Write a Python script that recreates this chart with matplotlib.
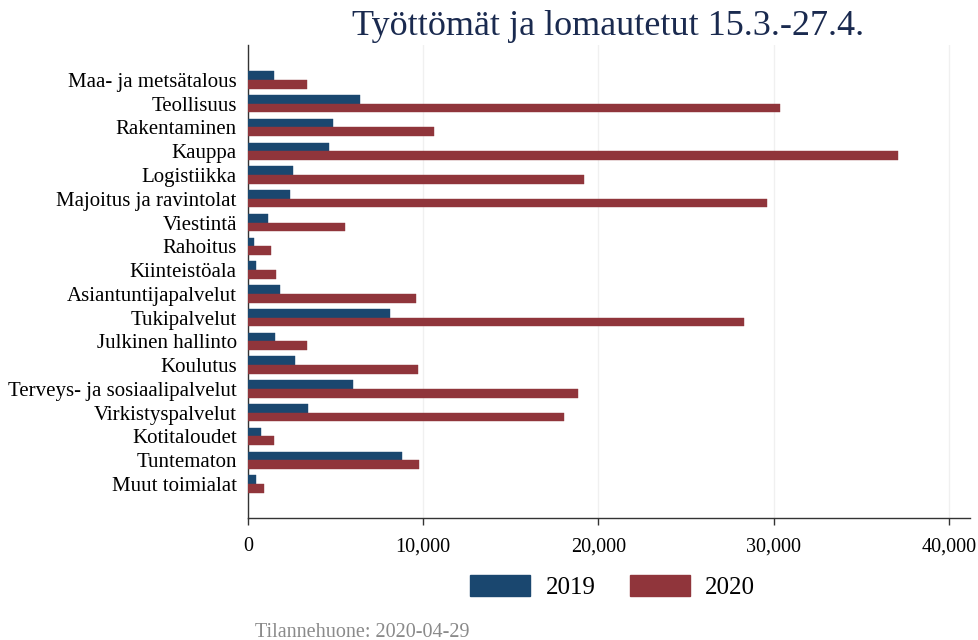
import numpy as np
import matplotlib
matplotlib.use('Agg')
import matplotlib.pyplot as plt
from matplotlib.ticker import FuncFormatter
from matplotlib.patches import Patch

plt.rcParams['font.family'] = ['Liberation Serif', 'DejaVu Serif']

# toimialat ja arvot (luettu kuvasta)
categories = ['Maa- ja metsätalous', 'Teollisuus', 'Rakentaminen', 'Kauppa',
              'Logistiikka', 'Majoitus ja ravintolat', 'Viestintä', 'Rahoitus',
              'Kiinteistöala', 'Asiantuntijapalvelut', 'Tukipalvelut',
              'Julkinen hallinto', 'Koulutus', 'Terveys- ja sosiaalipalvelut',
              'Virkistyspalvelut', 'Kotitaloudet', 'Tuntematon', 'Muut toimialat']
values_2019 = [1470, 6410, 4840, 4650, 2560, 2410, 1140, 340, 450, 1820,
               8090, 1560, 2680, 6010, 3420, 720, 8780, 450]
values_2020 = [3380, 30360, 10600, 37070, 19160, 29600, 5510, 1290, 1610, 9560,
               28330, 3380, 9710, 18860, 18010, 1480, 9750, 930]
series_labels = ['2019', '2020']
xticks = [0, 10000, 20000, 30000, 40000]

BLUE = '#1a476f'
RED = '#90353b'

fig = plt.figure(figsize=(9.79, 6.4), dpi=100)
ax = fig.add_axes([0.2533, 0.1906, 0.7375, 0.7391])

y = np.arange(len(categories))
h = 0.365
ax.barh(y - h / 2, values_2019, height=h, color=BLUE, edgecolor=BLUE, linewidth=0.3, zorder=3)
ax.barh(y + h / 2, values_2020, height=h, color=RED, edgecolor=RED, linewidth=0.3, zorder=3)

ax.set_ylim(len(categories) - 1 + 1.43, -1.47)
ax.set_xlim(0, 41200)
ax.set_yticks(y)
ax.set_yticklabels(categories, fontsize=15)
ax.tick_params(axis='y', length=0, pad=8)
ax.set_xticks(xticks)
ax.xaxis.set_major_formatter(FuncFormatter(lambda v, p: f'{int(v):,}'))
ax.tick_params(axis='x', labelsize=14.5, length=5, width=1.0, color='#333333', pad=9)

ax.grid(axis='x', color='#f0f0f0', linewidth=1.0, zorder=0)
for s in ['top', 'right']:
    ax.spines[s].set_visible(False)
for s in ['left', 'bottom']:
    ax.spines[s].set_color('#333333')
    ax.spines[s].set_linewidth(1.0)

fig.text(0.621, 0.958, 'Työttömät ja lomautetut 15.3.-27.4.', ha='center', va='center',
         fontsize=26, color='#1a2a4f')

handles = [Patch(facecolor=BLUE, edgecolor=BLUE), Patch(facecolor=RED, edgecolor=RED)]
fig.legend(handles, series_labels, loc='center', bbox_to_anchor=(0.626, 0.083), ncol=2,
           frameon=False, fontsize=18, handlelength=2.4, handleheight=0.95,
           columnspacing=1.4, handletextpad=0.6)

fig.text(0.26, 0.012, 'Tilannehuone: 2020-04-29', ha='left', va='center',
         fontsize=14.5, color='#8a8a8a')

fig.savefig('out.png', dpi=100, facecolor='white')
